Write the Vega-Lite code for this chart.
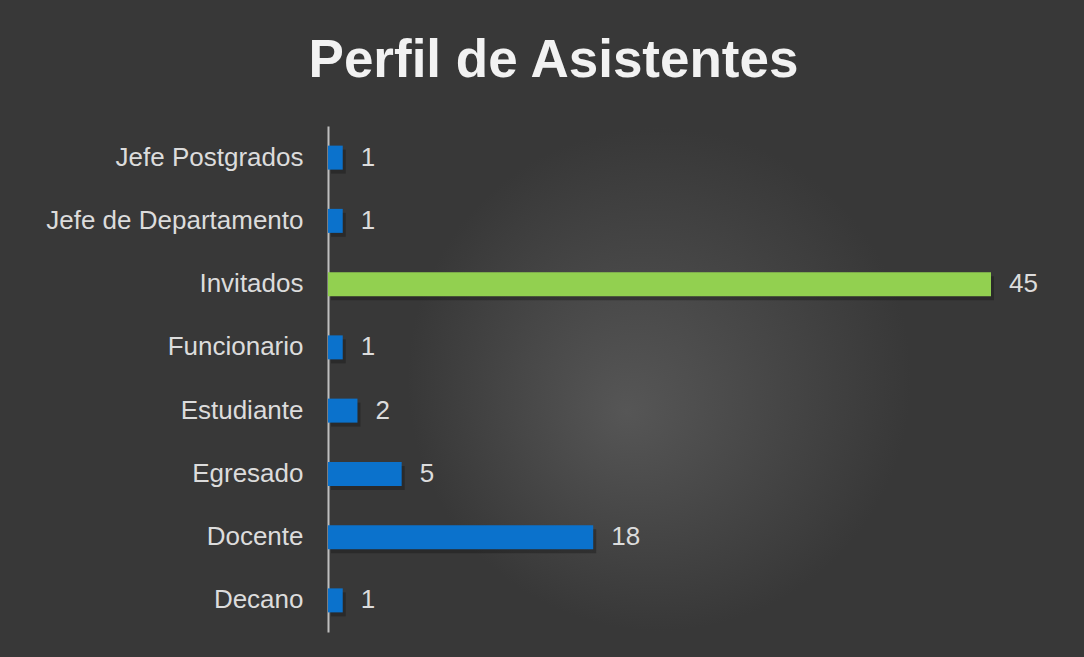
{
  "$schema": "https://vega.github.io/schema/vega-lite/v6.json",
  "width": 663,
  "height": 506,
  "autosize": {"type": "none"},
  "padding": {"left": 328, "top": 126, "right": 93, "bottom": 25},
  "background": "#383838",
  "title": {
    "text": "Perfil de Asistentes",
    "fontSize": 53,
    "font": "Liberation Sans",
    "fontWeight": "bold",
    "color": "#f2f2f2",
    "anchor": "middle",
    "dx": -106,
    "offset": 38
  },
  "data": {
    "values": [
      {"perfil": "Jefe Postgrados", "n": 1},
      {"perfil": "Jefe de Departamento", "n": 1},
      {"perfil": "Invitados", "n": 45},
      {"perfil": "Funcionario", "n": 1},
      {"perfil": "Estudiante", "n": 2},
      {"perfil": "Egresado", "n": 5},
      {"perfil": "Docente", "n": 18},
      {"perfil": "Decano", "n": 1}
    ]
  },
  "encoding": {
    "y": {
      "field": "perfil",
      "type": "nominal",
      "sort": ["Jefe Postgrados", "Jefe de Departamento", "Invitados", "Funcionario", "Estudiante", "Egresado", "Docente", "Decano"],
      "axis": {
        "title": null,
        "ticks": false,
        "grid": false,
        "labelFontSize": 26,
        "labelFont": "Liberation Sans",
        "labelColor": "#dcdcdc",
        "labelPadding": 25,
        "domainColor": "#bfbfbf",
        "domainWidth": 2,
        "labelLimit": 400
      }
    },
    "x": {
      "field": "n",
      "type": "quantitative",
      "scale": {"domain": [0, 45], "nice": false},
      "axis": null
    }
  },
  "layer": [
    {
      "mark": {"type": "bar", "size": 24, "color": "#1a1a1a", "opacity": 0.45, "xOffset": 3, "yOffset": 4},
      "encoding": {}
    },
    {
      "mark": {"type": "bar", "size": 24},
      "encoding": {
        "color": {
          "condition": {"test": "datum.perfil === 'Invitados'", "value": "#92d050"},
          "value": "#0b72cc"
        }
      }
    },
    {
      "mark": {"type": "text", "align": "left", "baseline": "middle", "dx": 18, "fontSize": 26, "font": "Liberation Sans", "color": "#dcdcdc"},
      "encoding": {"text": {"field": "n", "type": "quantitative"}}
    }
  ],
  "config": {
    "view": {
      "stroke": null,
      "fill": {
        "gradient": "radial",
        "x1": 0.45, "y1": 0.55, "r1": 0,
        "x2": 0.5, "y2": 0.5, "r2": 0.38,
        "stops": [
          {"offset": 0, "color": "#565656"},
          {"offset": 1, "color": "#383838"}
        ]
      }
    }
  }
}
